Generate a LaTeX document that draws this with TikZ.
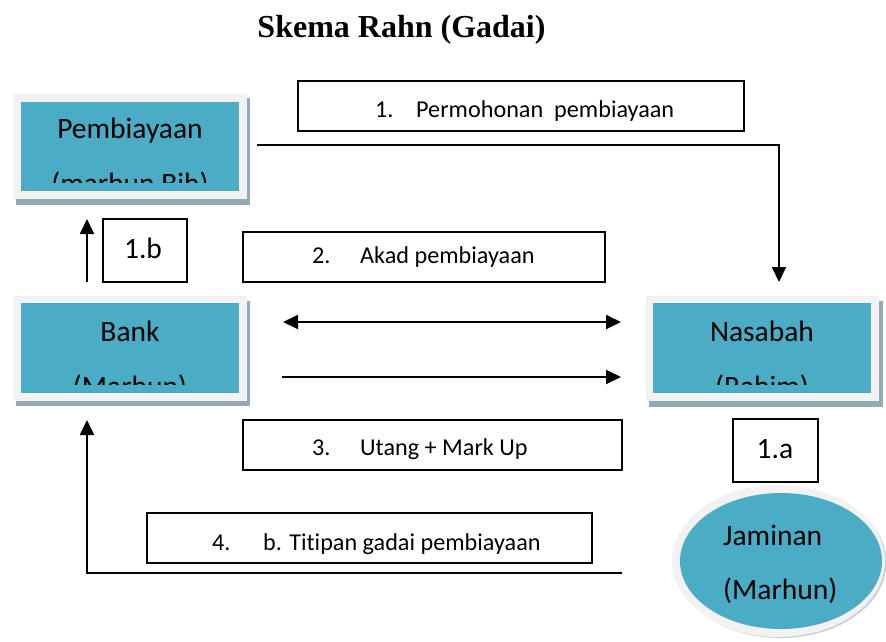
\documentclass[tikz,border=0pt]{standalone}
\usepackage{fontspec}
\setmainfont{Carlito}[Ligatures=NoCommon]
\newfontfamily\titlefont{Liberation Serif}
\usetikzlibrary{arrows.meta,fit,shapes.geometric}
\definecolor{teal1}{HTML}{4BACC6}
\definecolor{frame1}{HTML}{F2F2F2}
\definecolor{shade1}{HTML}{93AAB6}
\definecolor{shade2}{HTML}{C4D0D6}
\begin{document}
\begin{tikzpicture}[x=1pt,y=-1pt,
  arr/.style={line width=1.8pt,-{Triangle[length=15pt,width=14pt]}},
  dblarr/.style={line width=1.8pt,{Triangle[length=15pt,width=14pt]}-{Triangle[length=15pt,width=14pt]}},
  lblbox/.style={draw,line width=1.5pt,inner sep=0pt},
  lbltxt/.style={anchor=base west,inner sep=0pt,font=\fontsize{24.2}{29}\selectfont},
  bigtxt/.style={anchor=base,inner sep=0pt,font=\fontsize{29.5}{35}\selectfont},
  bigtxtl/.style={anchor=base west,inner sep=0pt,font=\fontsize{29.5}{35}\selectfont},
  framebox/.style={fill=frame1,inner sep=0pt},
]
\useasboundingbox (0,0) rectangle (886,641);

% title
\node[anchor=base,inner sep=0pt,font=\titlefont\bfseries\fontsize{32}{38}\selectfont] (title) at (401.5,37) {Skema Rahn (Gadai)};

% Pembiayaan box
\fill[shade1] (16,98) rectangle (250,205);
\node[framebox,fit={(13,93) (247,199)}] (pemb) {};
\fill[teal1] (21,102) rectangle (239,191);
\begin{scope}
\clip (21,102) rectangle (239,182);
\node[bigtxt] (pembA) at (130,138) {Pembiayaan};
\node[bigtxt] (pembB) at (130,193) {(marhun Bih)};
\end{scope}

% Bank box
\fill[shade1] (16,301) rectangle (250,406);
\node[framebox,fit={(13,296) (247,401)}] (bank) {};
\fill[teal1] (21,303) rectangle (239,393);
\begin{scope}
\clip (21,303) rectangle (239,384);
\node[bigtxt] (bankA) at (130,341) {Bank};
\node[bigtxt] (bankB) at (130,396) {(Marhun)};
\end{scope}

% Nasabah box
\fill[shade1] (649,301) rectangle (883,407);
\node[framebox,fit={(646,296) (879,401)}] (nas) {};
\fill[teal1] (653,303) rectangle (871,393);
\begin{scope}
\clip (653,303) rectangle (871,384);
\node[bigtxt] (nasA) at (762,341) {Nasabah};
\node[bigtxt] (nasB) at (762,396) {(Rahim)};
\end{scope}

% Jaminan ellipse
\fill[shade2] (780.5,562.5) ellipse [x radius=106, y radius=75.5];
\node[ellipse,fill=frame1,inner sep=0pt,minimum width=213pt,minimum height=152pt] (jam) at (778.5,561) {};
\fill[teal1] (781,561) ellipse [x radius=101, y radius=68];
\node[bigtxtl] (jamA) at (723,545) {Jaminan};
\node[bigtxtl] (jamB) at (723,599) {(Marhun)};

% label boxes
\node[lblbox,fit={(298,81) (744,131)}] (b1) {};
\node[lbltxt] (b1n) at (375,117) {1.};
\node[lbltxt] (b1t) at (416,117) {Permohonan\ \ pembiayaan};

\node[lblbox,fit={(243,232) (605,282)}] (b2) {};
\node[lbltxt] (b2n) at (312,263) {2.};
\node[lbltxt] (b2t) at (360,263) {Akad pembiayaan};

\node[lblbox,fit={(243,420) (622,470)}] (b3) {};
\node[lbltxt] (b3n) at (312,455) {3.};
\node[lbltxt] (b3t) at (360,455) {Utang + Mark Up};

\node[lblbox,fit={(147,513) (592,563)}] (b4) {};
\node[lbltxt] (b4n) at (212,550) {4.};
\node[lbltxt] (b4t) at (263,550) {b. Titipan gadai pembiayaan};

\node[lblbox,fit={(103,219) (187,282)}] (b1b) {};
\node[bigtxt] (b1bt) at (143,258) {1.b};

\node[lblbox,fit={(733,419) (818,482)}] (b1a) {};
\node[bigtxt] (b1at) at (775,458) {1.a};

% connector end points
\coordinate (a1s) at (257,145);
\coordinate (a1e) at (779,282);
\coordinate (abs) at (87,282);
\coordinate (abe) at (87,219);
\coordinate (a2s) at (283,322);
\coordinate (a2e) at (621,322);
\coordinate (a3s) at (282,377);
\coordinate (a3e) at (621,377);
\coordinate (a4s) at (622,573);
\coordinate (a4e) at (87,420);

\draw[arr] (a1s) -| (a1e);
\draw[arr] (abs) -- (abe);
\draw[dblarr] (a2s) -- (a2e);
\draw[arr] (a3s) -- (a3e);
\draw[arr] (a4s) -| (a4e);
\end{tikzpicture}
\end{document}
